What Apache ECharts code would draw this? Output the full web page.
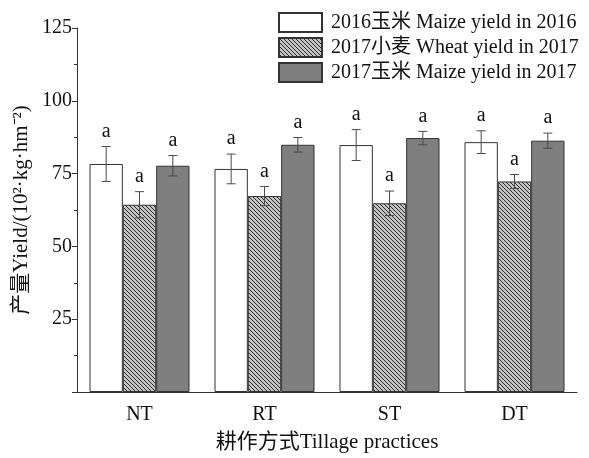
<!DOCTYPE html>
<html>
<head>
<meta charset="utf-8">
<script src="https://cdn.jsdelivr.net/npm/echarts@6/dist/echarts.min.js"></script>
<style>
  html, body { margin: 0; padding: 0; background: #fff; }
  #chart { width: 589px; height: 458px; }
</style>
</head>
<body>
<div id="chart"></div>
<script>
// Tillage practices and yields (10^2 kg/hm^2) with standard errors
const categories = ['NT', 'RT', 'ST', 'DT'];
const seriesNames = ['2016玉米 Maize yield in 2016', '2017小麦 Wheat yield in 2017', '2017玉米 Maize yield in 2017'];
const maize2016 = [78.3, 76.6, 84.8, 85.8];
const maize2016Err = [6.0, 5.1, 5.3, 3.9];
const wheat2017 = [64.3, 67.3, 64.8, 72.3];
const wheat2017Err = [4.5, 3.3, 4.2, 2.4];
const maize2017 = [77.7, 84.9, 87.2, 86.3];
const maize2017Err = [3.5, 2.5, 2.3, 2.6];
const sigLetters = [
  ['a', 'a', 'a', 'a'],
  ['a', 'a', 'a', 'a'],
  ['a', 'a', 'a', 'a']
];
const yTicks = [0, 25, 50, 75, 100, 125];

const values = [maize2016, wheat2017, maize2017];
const errors = [maize2016Err, wheat2017Err, maize2017Err];

const serif = '"Liberation Serif", "Times New Roman", "Noto Sans CJK SC", serif';

// diagonal hatch fill for the wheat bars
function makeHatch() {
  const s = 4;
  const c = document.createElement('canvas');
  c.width = s; c.height = s;
  const g = c.getContext('2d');
  g.fillStyle = '#c4c4c4';
  g.fillRect(0, 0, s, s);
  g.strokeStyle = '#2a2a2a';
  g.lineWidth = 1;
  for (let k = -1; k <= 1; k++) {
    g.beginPath();
    g.moveTo(k * s, 0);
    g.lineTo(k * s + s, s);
    g.stroke();
  }
  return c;
}
const hatch = makeHatch();

const fills = ['#ffffff', { image: hatch, repeat: 'repeat' }, '#7f7f80'];
const borders = ['#333333', '#333333', '#333333'];

const barSeries = values.map((v, i) => ({
  name: seriesNames[i],
  type: 'bar',
  data: v,
  barGap: '0%',
  barCategoryGap: '20%',
  itemStyle: { color: fills[i], borderColor: borders[i], borderWidth: 1 },
  emphasis: { disabled: true },
  z: 2
}));

// error bars + significance letters, offset to sit on each grouped bar
const errSeries = values.map((v, i) => ({
  type: 'custom',
  name: 'err' + i,
  z: 5,
  data: v.map((val, j) => [j, val, errors[i][j], sigLetters[i][j]]),
  renderItem: function (params, api) {
    const idx = api.value(0);
    const val = api.value(1);
    const err = api.value(2);
    const catW = api.size([1, 0])[0];
    const bw = catW * 0.8 / 3;
    const cx = api.coord([idx, val])[0] + (i - 1) * bw;
    const yTop = api.coord([idx, val + err])[1];
    const yBot = api.coord([idx, val - err])[1];
    const cap = 4.5;
    const st = { stroke: '#4a4a4a', lineWidth: 1 };
    return {
      type: 'group',
      children: [
        { type: 'line', shape: { x1: cx, y1: yTop, x2: cx, y2: yBot }, style: st },
        { type: 'line', shape: { x1: cx - cap, y1: yTop, x2: cx + cap, y2: yTop }, style: st },
        { type: 'line', shape: { x1: cx - cap, y1: yBot, x2: cx + cap, y2: yBot }, style: st },
        {
          type: 'text',
          style: {
            x: cx, y: yTop - 5,
            text: api.value(3),
            font: '20px ' + serif,
            fill: '#111',
            textAlign: 'center',
            textVerticalAlign: 'bottom'
          }
        }
      ]
    };
  }
}));

const chart = echarts.init(document.getElementById('chart'));
chart.setOption({
  animation: false,
  backgroundColor: '#fff',
  grid: { left: 77, right: 12, top: 28, bottom: 66, containLabel: false, outerBoundsMode: 'none' },
  legend: {
    data: seriesNames.map(n => ({ name: n, icon: 'rect' })),
    orient: 'vertical',
    left: 273,
    top: 7,
    itemWidth: 43,
    itemHeight: 19,
    itemGap: 4,
    selectedMode: false,
    textStyle: { fontFamily: serif, fontSize: 20, color: '#111', padding: [0, 0, 0, 4] }
  },
  xAxis: {
    type: 'category',
    data: categories,
    name: '耕作方式Tillage practices',
    nameLocation: 'middle',
    nameGap: 40,
    nameTextStyle: { fontFamily: serif, fontSize: 21, color: '#111' },
    axisLine: { lineStyle: { color: '#333', width: 1 } },
    axisTick: { inside: true, length: 4, lineStyle: { color: '#333' } },
    axisLabel: { fontFamily: serif, fontSize: 20, color: '#111', margin: 13 },
    splitLine: { show: false }
  },
  yAxis: {
    type: 'value',
    min: yTicks[0],
    max: yTicks[yTicks.length - 1],
    interval: yTicks[1] - yTicks[0],
    name: '产量Yield/(10²·kg·hm⁻²)',
    nameLocation: 'middle',
    nameGap: 45,
    nameMoveOverlap: false,
    nameRotate: 90,
    nameTextStyle: { fontFamily: serif, fontSize: 21, color: '#111' },
    axisLine: { show: true, lineStyle: { color: '#333', width: 1 } },
    axisTick: { show: true, inside: false, length: 5, lineStyle: { color: '#333' } },
    minorTick: { show: true, splitNumber: 2, length: 3, lineStyle: { color: '#333' } },
    axisLabel: {
      fontFamily: serif, fontSize: 20, color: '#111', margin: 5,
      formatter: v => (v === 0 ? '' : String(v))
    },
    splitLine: { show: false }
  },
  series: [...barSeries, ...errSeries]
});
</script>
</body>
</html>
